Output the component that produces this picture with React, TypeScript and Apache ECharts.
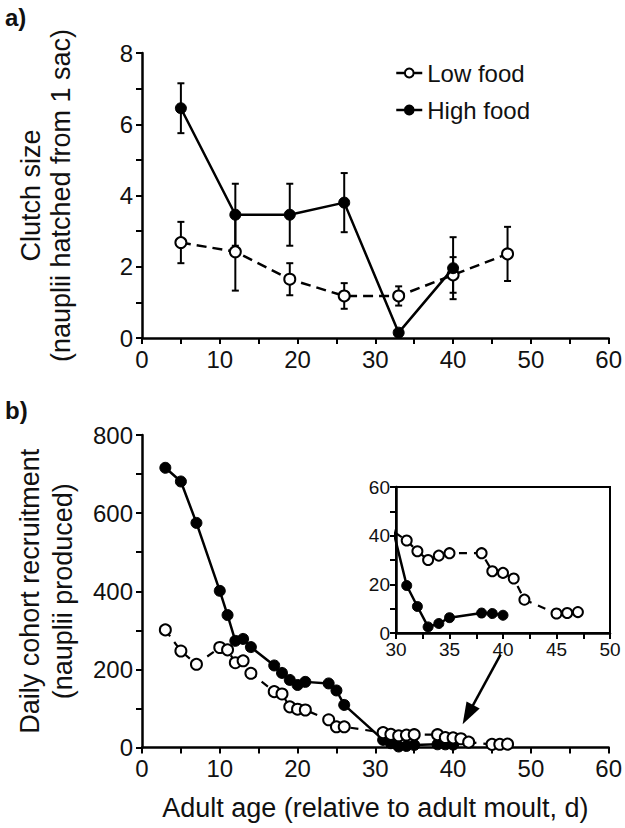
import React, { useEffect, useRef } from "react";
import * as echarts from "echarts";

// ---------- Panel a: clutch size ----------
const clutchLowAges = [5, 12, 19, 26, 33, 40, 47];
const clutchLow = [2.68, 2.42, 1.65, 1.18, 1.18, 1.77, 2.36];
const clutchLowErr = [0.58, 1.09, 0.45, 0.36, 0.27, 0.5, 0.76];
const clutchHighAges = [5, 12, 19, 26, 33, 40];
const clutchHigh = [6.45, 3.46, 3.46, 3.8, 0.15, 1.96];
const clutchHighErr = [0.7, 0.87, 0.87, 0.83, 0, 0.87];

// ---------- Panel b: daily cohort recruitment ----------
const recHighAges = [3, 5, 7, 10, 11, 12, 13, 14, 17, 18, 19, 20, 21, 24, 25, 26, 31, 32, 33, 34, 35, 38, 39, 40];
const recHigh = [716, 681, 575, 401, 339, 273, 278, 257, 210, 191, 173, 160, 168, 164, 146, 109, 19.5, 10.9, 2.5, 3.9, 6.3, 8.2, 8, 7.3];
const recLowAges = [3, 5, 7, 10, 11, 12, 13, 14, 17, 18, 19, 20, 21, 24, 25, 26, 31, 32, 33, 34, 35, 38, 39, 40, 41, 42, 45, 46, 47];
const recLow = [301, 247, 213, 256, 250, 217, 222, 190, 143, 137, 104, 98, 96, 71, 53, 53, 38, 33.6, 30, 31.8, 32.8, 32.8, 25.4, 24.7, 22.4, 13.7, 8, 8.2, 8.6];

// arrow annotation (data coordinates of panel b)
const arrowFrom = [46.1, 238];
const arrowTo = [41.9, 84];

const FONT = "'Liberation Sans', Arial, Helvetica, sans-serif";
const INK = "#111";

const pairs = (xs: number[], ys: number[]) => xs.map((x, i) => [x, ys[i]]);
const triples = (xs: number[], ys: number[], es: number[]) => xs.map((x, i) => [x, ys[i], es[i]]);

const errRender = (params: any, api: any) => {
  const x = api.value(0);
  const y = api.value(1);
  const e = api.value(2);
  if (!e) return null;
  const top = api.coord([x, y + e]);
  const bot = api.coord([x, y - e]);
  const cap = 3.5;
  const style = { stroke: "#000", lineWidth: 2 };
  return {
    type: "group",
    children: [
      { type: "line", shape: { x1: top[0], y1: top[1], x2: bot[0], y2: bot[1] }, style },
      { type: "line", shape: { x1: top[0] - cap, y1: top[1], x2: top[0] + cap, y2: top[1] }, style },
      { type: "line", shape: { x1: bot[0] - cap, y1: bot[1], x2: bot[0] + cap, y2: bot[1] }, style },
    ],
  };
};

const axisCommon = (fontSize: number, margin: number) => ({
  axisLine: { show: true, onZero: false, lineStyle: { color: "#000", width: 2.5 } },
  axisTick: { show: true, length: 6, lineStyle: { color: "#000", width: 2 } },
  minorTick: { show: true, splitNumber: 2, length: 6, lineStyle: { color: "#000", width: 2 } },
  splitLine: { show: false },
  minorSplitLine: { show: false },
  axisLabel: { fontSize, color: INK, fontFamily: FONT, margin },
});

const lowItem = { color: "#fff", borderColor: "#000", borderWidth: 2 };
const highItem = { color: "#000", borderColor: "#000", borderWidth: 1 };

export default function App() {
  const ref = useRef<HTMLDivElement>(null);
  useEffect(() => {
    document.body.style.margin = "0";
    if (!ref.current) return;
    const chart = echarts.init(ref.current, undefined, { renderer: "svg" });
    const option: any = {
      animation: false,
      backgroundColor: "#fff",
      textStyle: { fontFamily: FONT, color: INK },
      title: [
        { text: "a)", left: 0, top: 0, textStyle: { fontSize: 24, fontWeight: "bold", color: INK, fontFamily: FONT } },
        { text: "b)", left: 0, top: 393, textStyle: { fontSize: 24, fontWeight: "bold", color: INK, fontFamily: FONT } },
      ],
      legend: {
        data: ["Low food", "High food"],
        orient: "vertical",
        left: 390,
        top: 56,
        itemWidth: 26,
        itemHeight: 11,
        itemGap: 13,
        selectedMode: false,
        textStyle: { fontSize: 24, color: INK, fontFamily: FONT },
        lineStyle: { type: "solid", width: 2.5 },
      },
      grid: [
        { left: 142, top: 53, width: 470, height: 285 },
        { left: 142, top: 435, width: 470, height: 312.5 },
        { left: 396, top: 487, width: 214, height: 146, show: true, borderColor: "#000", borderWidth: 2, backgroundColor: "transparent" },
      ],
      xAxis: [
        { gridIndex: 0, type: "value", min: 0, max: 60, interval: 10, ...axisCommon(24, 9) },
        {
          gridIndex: 1, type: "value", min: 0, max: 60, interval: 10, ...axisCommon(24, 9),
          name: "Adult age (relative to adult moult, d)", nameLocation: "middle", nameGap: 47,
          nameTextStyle: { fontSize: 27, color: INK, fontFamily: FONT },
        },
        { gridIndex: 2, type: "value", min: 30, max: 50, interval: 5, ...axisCommon(19, 7) },
      ],
      yAxis: [
        {
          gridIndex: 0, type: "value", min: 0, max: 8, interval: 2, ...axisCommon(24, 9),
          name: "Clutch size\n(nauplii hatched from 1 sac)", nameLocation: "middle", nameRotate: 90, nameGap: 66,
          nameTextStyle: { fontSize: 27, color: INK, fontFamily: FONT, lineHeight: 30 },
        },
        {
          gridIndex: 1, type: "value", min: 0, max: 800, interval: 200, ...axisCommon(24, 9),
          name: "Daily cohort recruitment\n(nauplii produced)", nameLocation: "middle", nameRotate: 90, nameGap: 63,
          nameTextStyle: { fontSize: 27, color: INK, fontFamily: FONT, lineHeight: 33 },
        },
        { gridIndex: 2, type: "value", min: 0, max: 60, interval: 20, ...axisCommon(19, 6) },
      ],
      series: [
        {
          type: "custom", name: "errLow", xAxisIndex: 0, yAxisIndex: 0, z: 1,
          data: triples(clutchLowAges, clutchLow, clutchLowErr), renderItem: errRender,
          encode: { x: 0, y: 1 }, silent: true,
        },
        {
          type: "custom", name: "errHigh", xAxisIndex: 0, yAxisIndex: 0, z: 1,
          data: triples(clutchHighAges, clutchHigh, clutchHighErr), renderItem: errRender,
          encode: { x: 0, y: 1 }, silent: true,
        },
        {
          type: "line", name: "Low food", xAxisIndex: 0, yAxisIndex: 0, z: 3,
          data: pairs(clutchLowAges, clutchLow), symbol: "circle", symbolSize: 11,
          itemStyle: lowItem, lineStyle: { color: "#000", width: 2.5, type: [10, 6] },
        },
        {
          type: "line", name: "High food", xAxisIndex: 0, yAxisIndex: 0, z: 4,
          data: pairs(clutchHighAges, clutchHigh), symbol: "circle", symbolSize: 11,
          itemStyle: highItem, lineStyle: { color: "#000", width: 2.5 },
        },
        {
          type: "line", name: "Low food", xAxisIndex: 1, yAxisIndex: 1, z: 3,
          data: pairs(recLowAges, recLow), symbol: "circle", symbolSize: 11,
          itemStyle: lowItem, lineStyle: { color: "#000", width: 2.2, type: [8, 7] },
        },
        {
          type: "line", name: "High food", xAxisIndex: 1, yAxisIndex: 1, z: 2,
          data: pairs(recHighAges, recHigh), symbol: "circle", symbolSize: 11,
          itemStyle: highItem, lineStyle: { color: "#000", width: 2.5 },
          markLine: {
            silent: true, symbol: ["none", "triangle"], symbolSize: [15, 22],
            label: { show: false },
            lineStyle: { color: "#000", width: 2.5, type: "solid" },
            itemStyle: { color: "#000" },
            data: [[{ coord: arrowFrom }, { coord: arrowTo }]],
          },
        },
        {
          type: "line", name: "Low food", xAxisIndex: 2, yAxisIndex: 2, z: 3, clip: true,
          data: pairs(recLowAges, recLow), symbol: "circle", symbolSize: 10,
          itemStyle: lowItem, lineStyle: { color: "#000", width: 2.2, type: [8, 7] },
        },
        {
          type: "line", name: "High food", xAxisIndex: 2, yAxisIndex: 2, z: 2, clip: true,
          data: pairs(recHighAges, recHigh), symbol: "circle", symbolSize: 10,
          itemStyle: highItem, lineStyle: { color: "#000", width: 2.5 },
        },
      ],
    };
    chart.setOption(option);
    return () => chart.dispose();
  }, []);
  return <div ref={ref} style={{ width: 625, height: 828 }} />;
}
